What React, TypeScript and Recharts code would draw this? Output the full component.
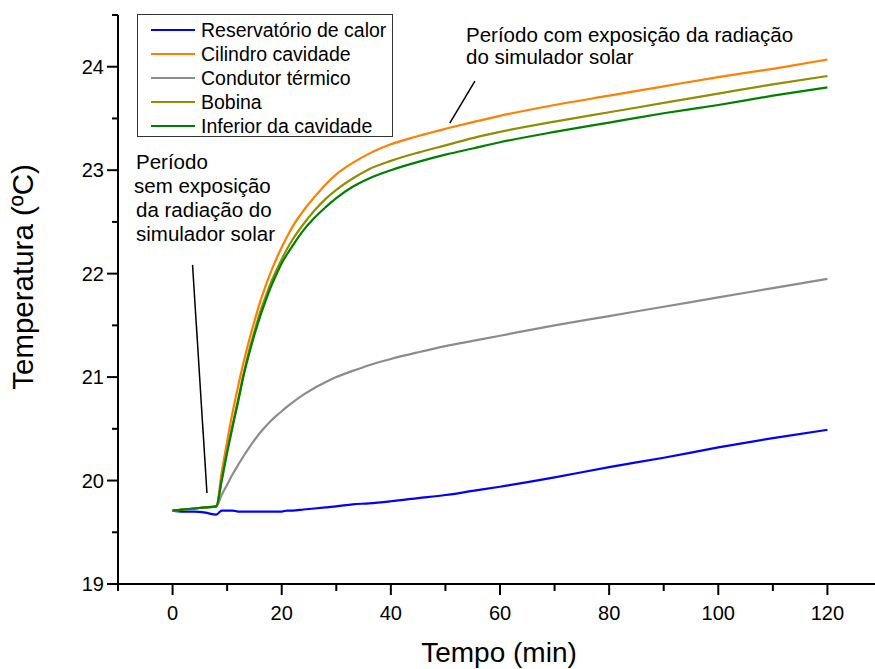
import React from 'react'
import { LineChart, Line, XAxis, YAxis, ReferenceLine, Legend } from 'recharts'

const FONT = '"Liberation Sans", Arial, Helvetica, sans-serif'

// tempo em minutos
const tempo = [0, 2, 4, 6, 8, 9, 10, 11, 12, 13, 14, 15, 16, 17, 18, 19, 20, 21, 22, 24, 26, 28, 30, 33, 36, 40, 45, 50, 55, 60, 70, 80, 90, 100, 110, 120]

const reservatorio = [19.71, 19.70, 19.70, 19.69, 19.67, 19.71, 19.71, 19.71, 19.70, 19.70, 19.70, 19.70, 19.70, 19.70, 19.70, 19.70, 19.70, 19.71, 19.71, 19.72, 19.73, 19.74, 19.75, 19.77, 19.78, 19.80, 19.83, 19.86, 19.90, 19.94, 20.03, 20.13, 20.22, 20.32, 20.41, 20.49]
const cilindro = [19.71, 19.72, 19.73, 19.74, 19.75, 20.08, 20.38, 20.66, 20.91, 21.14, 21.35, 21.54, 21.72, 21.875, 22.015, 22.14, 22.255, 22.36, 22.455, 22.61, 22.74, 22.86, 22.96, 23.07, 23.16, 23.25, 23.33, 23.40, 23.465, 23.525, 23.63, 23.72, 23.81, 23.90, 23.98, 24.07]
const condutor = [19.71, 19.72, 19.73, 19.74, 19.75, 19.86, 19.96, 20.06, 20.15, 20.235, 20.315, 20.39, 20.46, 20.52, 20.575, 20.625, 20.67, 20.715, 20.755, 20.83, 20.895, 20.95, 21.00, 21.06, 21.115, 21.175, 21.24, 21.30, 21.35, 21.40, 21.50, 21.59, 21.68, 21.77, 21.86, 21.95]
const bobina = [19.71, 19.72, 19.73, 19.74, 19.75, 20.01, 20.29, 20.54, 20.78, 21.03, 21.25, 21.44, 21.62, 21.77, 21.91, 22.03, 22.14, 22.24, 22.33, 22.48, 22.61, 22.72, 22.81, 22.92, 23.01, 23.09, 23.17, 23.24, 23.31, 23.37, 23.47, 23.56, 23.65, 23.74, 23.83, 23.91]
const inferior = [19.71, 19.72, 19.73, 19.74, 19.75, 20.00, 20.27, 20.52, 20.76, 21.01, 21.22, 21.41, 21.58, 21.73, 21.87, 21.99, 22.10, 22.19, 22.27, 22.42, 22.54, 22.64, 22.73, 22.84, 22.92, 23.00, 23.08, 23.15, 23.21, 23.27, 23.37, 23.46, 23.55, 23.63, 23.72, 23.80]

const xTicks = [-10, 0, 10, 20, 30, 40, 50, 60, 70, 80, 90, 100, 110, 120, 130]
const yTicks = [19, 19.5, 20, 20.5, 21, 21.5, 22, 22.5, 23, 23.5, 24, 24.5]

const series = [
  { key: 'reservatorio', name: 'Reservatório de calor', color: '#0000FF' },
  { key: 'cilindro', name: 'Cilindro cavidade', color: '#FF8000' },
  { key: 'condutor', name: 'Condutor térmico', color: '#8C8C8C' },
  { key: 'bobina', name: 'Bobina', color: '#8F8F00' },
  { key: 'inferior', name: 'Inferior da cavidade', color: '#008000' },
]

const dados = tempo.map((t, i) => ({
  t,
  reservatorio: reservatorio[i],
  cilindro: cilindro[i],
  condutor: condutor[i],
  bobina: bobina[i],
  inferior: inferior[i],
}))

function XTick(props: any) {
  const { x, y, payload } = props
  const major = payload.value % 20 === 0
  return (
    <g>
      <line x1={x} x2={x} y1={y} y2={y + (major ? 11 : 7)} stroke="#000" strokeWidth={2} />
      {major && (
        <text x={x} y={y + 36} textAnchor="middle" fontSize={20} fill="#000" fontFamily={FONT}>
          {payload.value}
        </text>
      )}
    </g>
  )
}

function YTick(props: any) {
  const { x, y, payload } = props
  const major = Number.isInteger(payload.value)
  return (
    <g>
      <line x1={x - (major ? 11 : 6)} x2={x} y1={y} y2={y} stroke="#000" strokeWidth={2} />
      {major && (
        <text x={x - 14} y={y + 7} textAnchor="end" fontSize={20} fill="#000" fontFamily={FONT}>
          {payload.value}
        </text>
      )}
    </g>
  )
}

function LegendBox() {
  return (
    <div
      style={{
        width: 256,
        height: 123,
        boxSizing: 'border-box',
        border: '1px solid #333',
        background: '#fff',
        paddingTop: 3,
        fontFamily: FONT,
      }}
    >
      {series.map((s) => (
        <div key={s.key} style={{ display: 'flex', alignItems: 'center', height: 24 }}>
          <span style={{ marginLeft: 13, width: 44, height: 2, background: s.color, display: 'inline-block' }} />
          <span style={{ marginLeft: 6, fontSize: 19.5, lineHeight: '24px', color: '#000', whiteSpace: 'nowrap' }}>
            {s.name}
          </span>
        </div>
      ))}
    </div>
  )
}

export default function App() {
  return (
    <div
      style={{
        position: 'absolute',
        left: 0,
        top: 0,
        width: 875,
        height: 669,
        overflow: 'hidden',
        background: '#fff',
        fontFamily: FONT,
      }}
    >
      <LineChart width={890} height={669} data={dados} margin={{ top: 15, right: 8, bottom: 0, left: 0 }}>
        <XAxis
          dataKey="t"
          type="number"
          domain={[-10, 130]}
          ticks={xTicks}
          interval={0}
          tick={<XTick />}
          tickSize={0}
          tickMargin={0}
          tickLine={false}
          height={85}
          axisLine={{ stroke: '#000', strokeWidth: 2 }}
          allowDataOverflow
        />
        <YAxis
          type="number"
          domain={[19, 24.5]}
          ticks={yTicks}
          interval={0}
          tick={<YTick />}
          tickSize={0}
          tickMargin={0}
          tickLine={false}
          width={118}
          axisLine={{ stroke: '#000', strokeWidth: 2 }}
          allowDataOverflow
        />
        <Legend
          layout="vertical"
          align="center"
          verticalAlign="middle"
          wrapperStyle={{ left: 137, top: 14, width: 256, height: 123 }}
          content={() => <LegendBox />}
        />
        <ReferenceLine
          segment={[{ x: 55.4, y: 23.86 }, { x: 50.8, y: 23.455 }]}
          stroke="#000"
          strokeWidth={1.5}
        />
        <ReferenceLine
          segment={[{ x: 3.66, y: 22.085 }, { x: 6.3, y: 19.88 }]}
          stroke="#000"
          strokeWidth={1.5}
        />
        {series.map((s) => (
          <Line
            key={s.key}
            dataKey={s.key}
            name={s.name}
            type="monotone"
            stroke={s.color}
            strokeWidth={2.2}
            dot={false}
            isAnimationActive={false}
          />
        ))}
      </LineChart>
      <svg
        width={875}
        height={669}
        style={{ position: 'absolute', left: 0, top: 0, pointerEvents: 'none' }}
        fontFamily={FONT}
      >
        <text x={466} y={42} fontSize={20.5} fill="#000">Período com exposição da radiação</text>
        <text x={466} y={64} fontSize={20.5} fill="#000">do simulador solar</text>
        <text x={136} y={169} fontSize={20.5} fill="#000">Período</text>
        <text x={134} y={193} fontSize={20.5} fill="#000">sem exposição</text>
        <text x={136} y={217} fontSize={20.5} fill="#000">da radiação do</text>
        <text x={136} y={241} fontSize={20.5} fill="#000">simulador solar</text>
        <text x={499} y={662} fontSize={28} fill="#000" textAnchor="middle">Tempo (min)</text>
        <text
          x={33}
          y={277}
          fontSize={29.5}
          fill="#000"
          textAnchor="middle"
          transform="rotate(-90 33 277)"
        >
          Temperatura (ºC)
        </text>
      </svg>
    </div>
  )
}
